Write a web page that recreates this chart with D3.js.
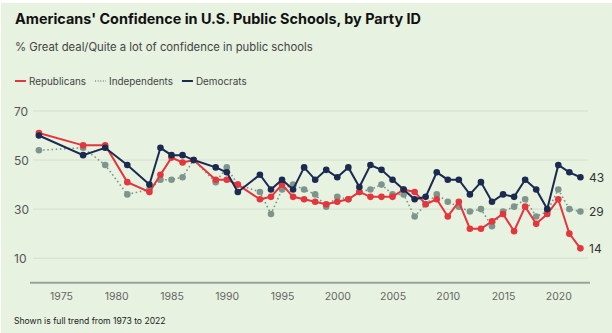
<!DOCTYPE html>
<html>
<head>
<meta charset="utf-8">
<script src="https://cdn.jsdelivr.net/npm/d3@7"></script>
<style>
  body { margin: 0; background: #fff; }
  svg { display: block; font-family: Inter, "Noto Sans", sans-serif; }
</style>
</head>
<body>
<svg id="chart" width="612" height="333"></svg>
<script>
const years = [1973, 1977, 1979, 1981, 1983, 1984, 1985, 1986, 1987, 1989, 1990, 1991, 1993,
  1994, 1995, 1996, 1997, 1998, 1999, 2000, 2001, 2002, 2003, 2004, 2005, 2006, 2007, 2008,
  2009, 2010, 2011, 2012, 2013, 2014, 2015, 2016, 2017, 2018, 2019, 2020, 2021, 2022];

const republicans = [61, 56, 56, 41, 37, 44, 51, 49, 50, 42, 42, 40, 34,
  35, 40, 35, 34, 33, 32, 33, 34, 37, 35, 35, 35, 38, 37, 32,
  34, 27, 33, 22, 22, 25, 28, 21, 31, 24, 28, 34, 20, 14];

const independents = [54, 55, 48, 36, 38, 42, 42, 43, 50, 41, 47, 40, 37,
  28, 38, 40, 38, 36, 31, 35, 34, 37, 38, 40, 36, 36, 27, 32,
  36, 33, 31, 29, 30, 23, 29, 31, 34, 27, 29, 38, 30, 29];

const democrats = [60, 52, 55, 48, 40, 55, 52, 52, 50, 47, 45, 37, 44,
  38, 42, 38, 47, 42, 46, 43, 47, 39, 48, 46, 42, 38, 34, 35,
  45, 42, 42, 36, 41, 33, 36, 35, 42, 38, 30, 48, 45, 43];

const yTicks = [10, 30, 50, 70];
const xTicks = [1975, 1980, 1985, 1990, 1995, 2000, 2005, 2010, 2015, 2020];

const series = [
  { name: 'Republicans', values: republicans, color: '#e5353d', dash: null },
  { name: 'Independents', values: independents, color: '#7d958c', dash: '1.6,2.6' },
  { name: 'Democrats', values: democrats, color: '#1b2a50', dash: null }
];

const svg = d3.select('#chart');
const W = 612, H = 333;

svg.append('rect').attr('width', W).attr('height', H).attr('fill', '#fff');
svg.append('rect').attr('x', 1).attr('y', 3).attr('width', W - 1).attr('height', H - 3).attr('fill', '#e7f2e1');

const x = d3.scaleLinear().domain([1975, 2020]).range([61, 558.3]);
const y = d3.scaleLinear().domain([0, 70]).range([282.7, 111]);

// titles
svg.append('text').attr('x', 15).attr('y', 24)
  .attr('font-size', 14.4).attr('font-weight', 700).attr('fill', '#111')
  .text("Americans' Confidence in U.S. Public Schools, by Party ID");

svg.append('text').attr('x', 15).attr('y', 51)
  .attr('font-size', 11.3).attr('fill', '#444')
  .text('% Great deal/Quite a lot of confidence in public schools');

// legend
const legend = svg.append('g').attr('transform', 'translate(15,81)');
let lx = 0;
series.forEach(s => {
  legend.append('line')
    .attr('x1', lx).attr('x2', lx + 11).attr('y1', 0).attr('y2', 0)
    .attr('stroke', s.color).attr('stroke-width', s.dash ? 1.3 : 2)
    .attr('stroke-dasharray', s.dash ? '1,1.6' : null);
  const t = legend.append('text').attr('x', lx + 14).attr('y', 3.8)
    .attr('font-size', 9.9).attr('fill', '#444').text(s.name);
  lx += 14 + t.node().getComputedTextLength() + 9;
});

// grid
svg.append('g').selectAll('line').data(yTicks).join('line')
  .attr('x1', 33).attr('x2', 588)
  .attr('y1', d => y(d)).attr('y2', d => y(d))
  .attr('stroke', '#d3e0cf').attr('stroke-width', 1);

svg.append('g').selectAll('text').data(yTicks).join('text')
  .attr('x', 14).attr('y', d => y(d) + 4.5)
  .attr('font-size', 12).attr('fill', '#555')
  .text(d => d);

// x axis
const xAxis = svg.append('g').attr('transform', `translate(0,${y(0)})`)
  .call(d3.axisBottom(x).tickValues(xTicks).tickFormat(d3.format('d')).tickSize(0).tickPadding(10));
xAxis.select('.domain').remove();
xAxis.selectAll('text').attr('font-size', 10.5).attr('fill', '#666')
  .attr('font-family', 'Inter, "Noto Sans", sans-serif');
svg.append('line').attr('x1', 30).attr('x2', 590)
  .attr('y1', y(0)).attr('y2', y(0))
  .attr('stroke', '#9aa59a').attr('stroke-width', 2);

// lines
const line = d3.line().x((d, i) => x(years[i])).y(d => y(d));
const order = [series[1], series[0], series[2]];
order.forEach(s => {
  const g = svg.append('g');
  g.append('path').datum(s.values)
    .attr('fill', 'none').attr('stroke', s.color)
    .attr('stroke-width', s.dash ? 1.6 : 2)
    .attr('stroke-dasharray', s.dash)
    .attr('d', line);
  g.selectAll('circle').data(s.values).join('circle')
    .attr('cx', (d, i) => x(years[i])).attr('cy', d => y(d))
    .attr('r', 3.3).attr('fill', s.color);
});

// end labels
series.forEach(s => {
  const last = s.values[s.values.length - 1];
  svg.append('text').attr('x', 589).attr('y', y(last) + 4.5)
    .attr('font-size', 12).attr('fill', '#333').text(last);
});

// footer
svg.append('text').attr('x', 14).attr('y', 324)
  .attr('font-size', 8.6).attr('fill', '#222')
  .text('Shown is full trend from 1973 to 2022');
</script>
</body>
</html>
